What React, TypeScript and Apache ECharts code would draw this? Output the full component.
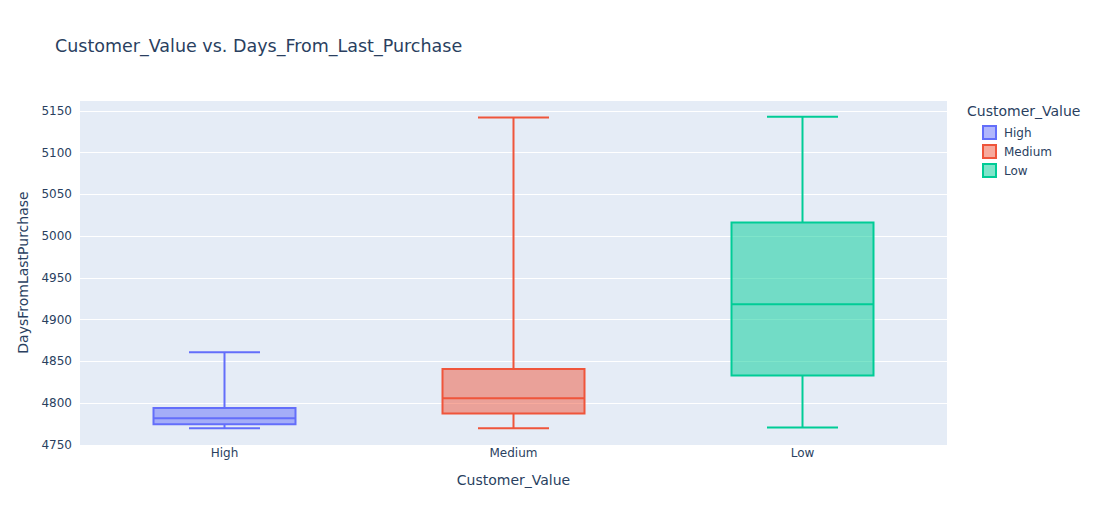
import React, { useEffect, useRef } from "react";
import * as echarts from "echarts";

const categories = ["High", "Medium", "Low"];
const lowerFence = [4770, 4770, 4771];
const q1 = [4774.7, 4787.6, 4833.2];
const median = [4782, 4806, 4918.4];
const q3 = [4794.4, 4841, 5016.4];
const upperFence = [4861, 5142, 5142.8];
const colors = ["#636efa", "#EF553B", "#00cc96"];
const fills = ["rgba(99,110,250,0.5)", "rgba(239,85,59,0.5)", "rgba(0,204,150,0.5)"];

const FONT = '"DejaVu Sans", verdana, arial, sans-serif';
const TXT = "#2a3f5f";
const BOX_FRAC = 142 / 289;

export default function App() {
  const ref = useRef<HTMLDivElement>(null);
  useEffect(() => {
    if (!ref.current) return;
    const chart = echarts.init(ref.current, null, { renderer: "svg" });
    const series = categories.map((name, i) => ({
      type: "custom",
      name,
      itemStyle: { color: fills[i], borderColor: colors[i] },
      encode: { x: 0, y: [1, 2, 3, 4, 5] },
      data: [[i, lowerFence[i], q1[i], median[i], q3[i], upperFence[i]]],
      renderItem: (params: any, api: any) => {
        const x = api.value(0);
        const band = api.size([1, 0])[0];
        const half = (band * BOX_FRAC) / 2;
        const pMin = api.coord([x, api.value(1)]);
        const pQ1 = api.coord([x, api.value(2)]);
        const pMed = api.coord([x, api.value(3)]);
        const pQ3 = api.coord([x, api.value(4)]);
        const pMax = api.coord([x, api.value(5)]);
        const cx = pMin[0];
        const ls = { stroke: colors[i], lineWidth: 2 };
        return {
          type: "group",
          children: [
            { type: "line", shape: { x1: cx, y1: pMin[1], x2: cx, y2: pQ1[1] }, style: ls },
            { type: "line", shape: { x1: cx, y1: pQ3[1], x2: cx, y2: pMax[1] }, style: ls },
            { type: "line", shape: { x1: cx - half / 2, y1: pMin[1], x2: cx + half / 2, y2: pMin[1] }, style: ls },
            { type: "line", shape: { x1: cx - half / 2, y1: pMax[1], x2: cx + half / 2, y2: pMax[1] }, style: ls },
            {
              type: "rect",
              shape: { x: cx - half, y: pQ3[1], width: 2 * half, height: pQ1[1] - pQ3[1] },
              style: { fill: fills[i], stroke: colors[i], lineWidth: 2 },
            },
            { type: "line", shape: { x1: cx - half, y1: pMed[1], x2: cx + half, y2: pMed[1] }, style: ls },
          ],
        };
      },
    }));

    chart.setOption({
      animation: false,
      backgroundColor: "#ffffff",
      textStyle: { fontFamily: FONT },
      title: {
        text: "Customer_Value vs. Days_From_Last_Purchase",
        left: 50,
        top: 32,
        textStyle: { fontFamily: FONT, fontSize: 17.5, fontWeight: "normal", color: TXT },
      },
      grid: {
        left: 80,
        right: 148,
        top: 100,
        bottom: 80,
        show: true,
        backgroundColor: "#E5ECF6",
        borderWidth: 0,
      },
      legend: {
        orient: "vertical",
        left: 977,
        top: 120,
        itemWidth: 13,
        itemHeight: 13,
        itemGap: 4,
        icon: "rect",
        textStyle: { fontFamily: FONT, fontSize: 12, color: TXT, padding: [0, 0, 0, 3] },
        data: categories.map((name, i) => ({
          name,
          itemStyle: { color: fills[i], borderColor: colors[i], borderWidth: 2 },
        })),
      },
      graphic: [
        {
          type: "text",
          left: 967,
          top: 104,
          style: { text: "Customer_Value", fontFamily: FONT, fontSize: 14, fill: TXT },
        },
      ],
      xAxis: {
        type: "category",
        data: categories,
        boundaryGap: true,
        axisLine: { show: false },
        axisTick: { show: false },
        splitLine: { show: false },
        axisLabel: { color: TXT, fontSize: 12, fontFamily: FONT, margin: 2 },
        name: "Customer_Value",
        nameLocation: "middle",
        nameGap: 28,
        nameTextStyle: { color: TXT, fontSize: 14, fontFamily: FONT },
      },
      yAxis: {
        type: "value",
        min: 4750,
        max: 5163,
        interval: 50,
        axisLine: { show: false },
        axisTick: { show: false },
        splitLine: { show: true, lineStyle: { color: "#ffffff", width: 1 } },
        axisLabel: {
          color: TXT,
          fontSize: 12,
          fontFamily: FONT,
          margin: 8,
          showMaxLabel: false,
          formatter: (v: number) => String(v),
        },
        name: "DaysFromLastPurchase",
        nameLocation: "middle",
        nameRotate: 90,
        nameGap: 50,
        nameTextStyle: { color: TXT, fontSize: 14, fontFamily: FONT },
      },
      series,
    });
    return () => chart.dispose();
  }, []);
  return (
    <div
      ref={ref}
      style={{ position: "fixed", left: 0, top: 0, width: 1095, height: 525 }}
    />
  );
}
